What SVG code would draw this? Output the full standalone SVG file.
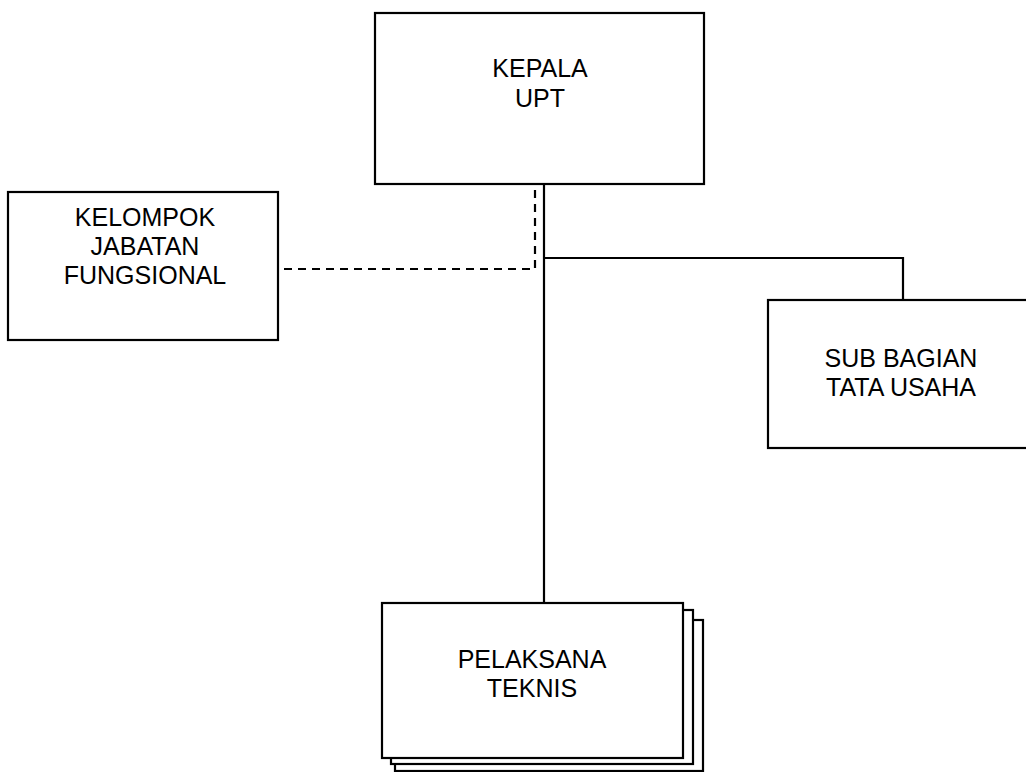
<svg xmlns="http://www.w3.org/2000/svg" width="1026" height="772" viewBox="0 0 1026 772">
<style>
.box{fill:#fff;stroke:#000;stroke-width:2.2}
.ln{fill:none;stroke:#000;stroke-width:2.2}
.dash{fill:none;stroke:#000;stroke-width:2.2;stroke-dasharray:8 6}
text{font-family:"Liberation Sans",Arial,sans-serif;font-size:25px;fill:#000;text-anchor:middle}
</style>
<rect width="1026" height="772" fill="#fff"/>
<g id="connectors">
<line class="ln" x1="544" y1="184" x2="544" y2="603"/>
<polyline class="ln" points="544,258 903,258 903,300"/>
<polyline class="dash" points="535,190 535,269 278,269"/>
</g>
<g id="kepala">
<rect class="box" x="375" y="13" width="329" height="171"/>
<text x="540" y="77">KEPALA</text>
<text x="540" y="107">UPT</text>
</g>
<g id="kelompok">
<rect class="box" x="8" y="192" width="270" height="148"/>
<text x="145" y="226">KELOMPOK</text>
<text x="145" y="255">JABATAN</text>
<text x="145" y="284">FUNGSIONAL</text>
</g>
<g id="subbagian">
<rect class="box" x="768" y="300" width="270" height="148"/>
<text x="901" y="367">SUB BAGIAN</text>
<text x="901" y="396">TATA USAHA</text>
</g>
<g id="pelaksana">
<rect class="box" x="395" y="620" width="308" height="151"/>
<rect class="box" x="391" y="610" width="302" height="154"/>
<rect class="box" x="382" y="603" width="301" height="155"/>
<text x="532" y="668">PELAKSANA</text>
<text x="532" y="697">TEKNIS</text>
</g>
</svg>
